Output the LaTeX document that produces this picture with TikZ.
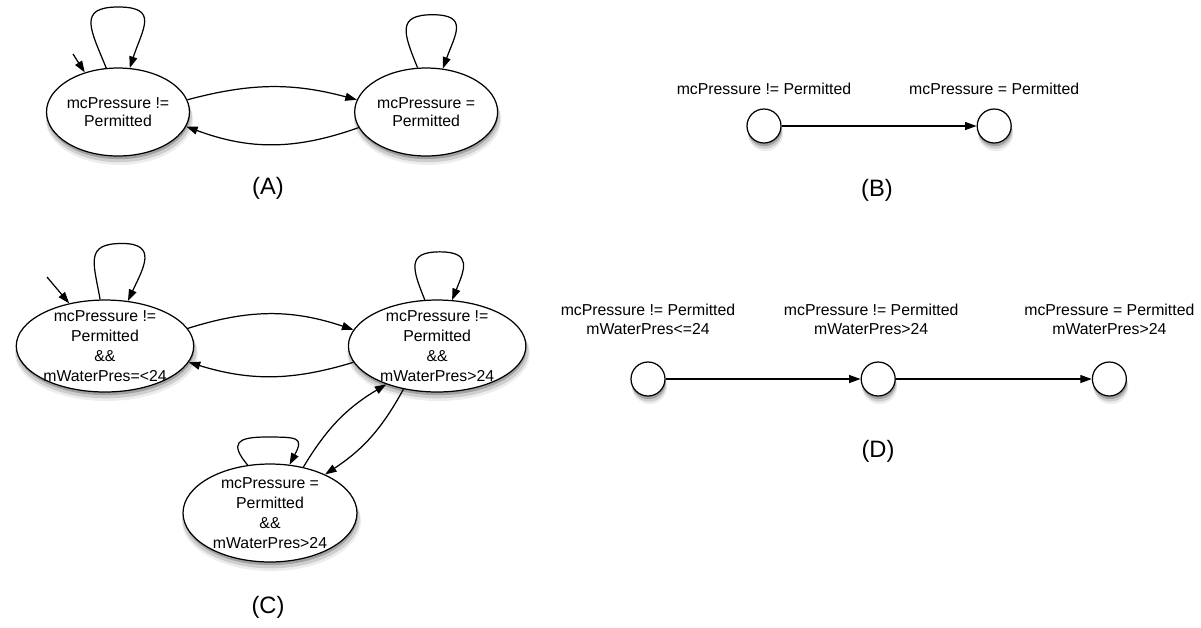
\documentclass[tikz,border=0pt]{standalone}
\usepackage{fontspec}
\setmainfont{Liberation Sans}
\usetikzlibrary{positioning,shapes.geometric,arrows.meta,shadows}

\tikzset{
	softshadow/.style={
		drop shadow={shadow xshift=0.4pt, shadow yshift=-1.8pt, opacity=0.22, fill=black},
		drop shadow={shadow xshift=0.6pt, shadow yshift=-3pt, shadow scale=1.02, opacity=0.13, fill=black},
		drop shadow={shadow xshift=0.8pt, shadow yshift=-4.2pt, shadow scale=1.03, opacity=0.07, fill=black}},
	state/.style={ellipse, draw, line width=0.7pt, fill=white, inner sep=0pt, softshadow,
		minimum width=2.86cm, minimum height=1.76cm},
	bigstate/.style={state, minimum width=3.55cm, minimum height=1.84cm},
	dot/.style={circle, draw, line width=0.7pt, fill=white, inner sep=0pt, softshadow, minimum size=0.68cm},
	txt/.style={align=center, inner sep=0pt, font=\fontsize{9}{10.4}\selectfont},
	txtbig/.style={txt, font=\fontsize{9}{11.3}\selectfont},
	lbl/.style={align=center, inner sep=0pt, font=\fontsize{9}{11.3}\selectfont},
	captxt/.style={font=\fontsize{13.5}{16}\selectfont},
	trans/.style={line width=0.7pt, -{Triangle[length=2.3mm,width=1.6mm]}}
}

\begin{document}
\begin{tikzpicture}[x=0.02cm, y=0.02cm]
	\useasboundingbox (0,0) rectangle (1201,-627);

	% (A)
	\node[state, label={[txt]center:{mcPressure !=\\Permitted}}] (a1) at (118,-112) {};
	\node[state, right=3.28cm of a1, label={[txt]center:{mcPressure =\\Permitted}}] (a2) {};
	\coordinate (a0) at (73,-54);
	\draw[trans] (a0) -- (a1.130);
	\draw[trans] (a1.105) to[out=112,in=180,looseness=1.7] ++(12,61) to[out=0,in=72,looseness=1.7] (a1.75);
	\draw[trans] (a2.101) to[out=112,in=180,looseness=1.7] ++(15,53) to[out=0,in=70,looseness=1.7] (a2.69);
	\draw[trans] (a1.10) to[bend left=15] (a2.170);
	\draw[trans] (a2.193) to[bend left=20] (a1.348);
	\node[captxt] (capA) at (268,-188) {(A)};

	% (B)
	\node[dot] (b1) at (764,-126) {};
	\node[dot, right=3.9cm of b1] (b2) {};
	\node[lbl, above=0.26cm of b1] (b1t) {mcPressure != Permitted};
	\node[lbl, above=0.26cm of b2] (b2t) {mcPressure = Permitted};
	\draw[trans] (b1) -- (b2);
	\node[captxt] (capB) at (877,-190) {(B)};

	% (C)
	\node[bigstate, label={[txtbig]center:{mcPressure !=\\Permitted\\\&\&\\mWaterPres=<24}}] (c1) at (105,-346) {};
	\node[bigstate, right=3.07cm of c1, label={[txtbig]center:{mcPressure !=\\Permitted\\\&\&\\mWaterPres>24}}] (c2) {};
	\node[bigstate, minimum width=3.48cm, minimum height=1.96cm,
		label={[txtbig]center:{mcPressure =\\Permitted\\\&\&\\mWaterPres>24}}] (c3) at (270,-513) {};
	\coordinate (c0) at (47,-277);
	\draw[trans] (c0) -- (c1.130);
	\draw[trans] (c1.96) to[out=100,in=180,looseness=1.6] ++(22,56) to[out=0,in=65,looseness=1.6] (c1.63);
	\draw[trans] (c2.105) to[out=112,in=180,looseness=1.7] ++(15,48) to[out=0,in=68,looseness=1.7] (c2.72);
	\draw[trans] (c3.115) to[out=130,in=180,looseness=2.2] ++(18,28) to[out=0,in=62,looseness=2.2] (c3.68);
	\draw[trans] (c1.12) to[bend left=18] (c2.169);
	\draw[trans] (c2.191) to[bend left=17] (c1.349);
	\draw[trans] (c3.54) to[bend left=14] (c2.217);
	\draw[trans] (c2.232) to[bend left=14] (c3.35);
	\node[captxt] (capC) at (268,-607) {(C)};

	% (D)
	\node[dot] (d1) at (648,-379) {};
	\node[dot, right=3.9cm of d1] (d2) {};
	\node[dot, right=3.92cm of d2] (d3) {};
	\node[lbl, above=0.52cm of d1] (d1t) {mcPressure != Permitted\\mWaterPres<=24};
	\node[lbl, above=0.52cm of d2, xshift=-0.14cm] (d2t) {mcPressure != Permitted\\mWaterPres>24};
	\node[lbl, above=0.52cm of d3] (d3t) {mcPressure = Permitted\\mWaterPres>24};
	\draw[trans] (d1) -- (d2);
	\draw[trans] (d2) -- (d3);
	\node[captxt] (capD) at (878,-451) {(D)};
\end{tikzpicture}
\end{document}
